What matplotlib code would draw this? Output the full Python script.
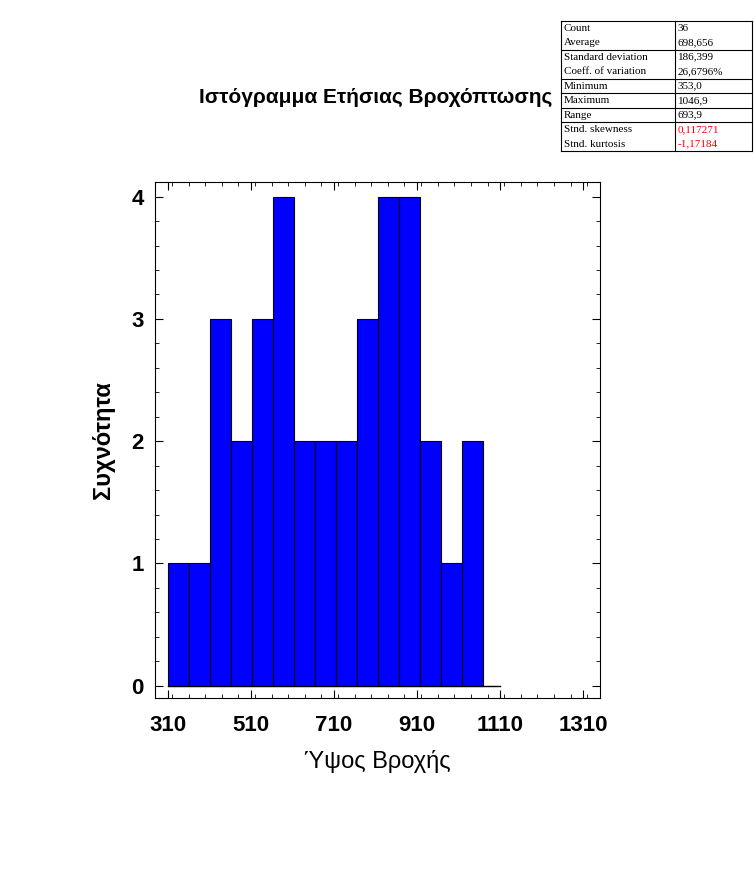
import matplotlib
matplotlib.use("Agg")
import matplotlib.pyplot as plt
from matplotlib.ticker import MultipleLocator

plt.rcParams["font.family"] = "Liberation Sans"

bin_edges = [310, 360.6, 411.2, 461.8, 512.4, 563, 613.6, 664.2, 714.8, 765.4, 816, 866.6, 917.2, 967.8, 1018.4, 1069]
counts = [1, 1, 3, 2, 3, 4, 2, 2, 2, 3, 4, 4, 2, 1, 2]
xticks = [310, 510, 710, 910, 1110, 1310]
yticks = [0, 1, 2, 3, 4]
stat_names = ["Count", "Average", "Standard deviation", "Coeff. of variation", "Minimum",
              "Maximum", "Range", "Stnd. skewness", "Stnd. kurtosis"]
stat_values = ["36", "698,656", "186,399", "26,6796%", "353,0", "1046,9", "693,9", "0,117271", "-1,17184"]

W, H = 754, 880
fig = plt.figure(figsize=(W/100, H/100), dpi=100)
ax = fig.add_axes([155/W, (H-698)/H, 445/W, 516/H])
widths = [bin_edges[i+1]-bin_edges[i] for i in range(len(counts))]
ax.bar(bin_edges[:-1], counts, width=widths, align="edge", color="#0000ff", edgecolor="black", linewidth=0.8)
ax.plot([310, 1110], [0, 0], color="black", lw=1)
ax.set_xlim(279, 1351)
ax.set_ylim(-0.1, 4.12)
ax.set_xticks(xticks)
ax.set_yticks(yticks)
ax.xaxis.set_minor_locator(MultipleLocator(40))
ax.yaxis.set_minor_locator(MultipleLocator(0.2))
ax.tick_params(which="both", direction="in", top=True, right=True)
ax.tick_params(which="major", length=6, labelsize=16)
ax.tick_params(axis="x", which="major", pad=12)
ax.tick_params(axis="y", which="major", pad=8)
ax.tick_params(which="minor", length=3)
for lab in ax.get_xticklabels() + ax.get_yticklabels():
    lab.set_fontweight("bold")
ax.set_xlabel("Ύψος Βροχής", fontsize=17, labelpad=10)
ax.set_ylabel("Συχνότητα", fontsize=17, fontweight="bold", labelpad=12)
fig.text(376/W, 1-97/H, "Ιστόγραμμα Ετήσιας Βροχόπτωσης", fontsize=15, fontweight="bold",
         ha="center", va="center")

# stats table
x0, x1, xm = 561, 752, 675
ytop, lh = 21, 14.5
for xx in (x0, x1, xm):
    fig.add_artist(plt.Line2D([xx/W, xx/W], [1-ytop/H, 1-(ytop+9*lh)/H], color="black", lw=0.8))
for k in [0, 2, 4, 5, 6, 7, 9]:
    y = 1-(ytop+k*lh)/H
    fig.add_artist(plt.Line2D([x0/W, x1/W], [y, y], color="black", lw=0.8))
for i, (n, v) in enumerate(zip(stat_names, stat_values)):
    y = 1-(ytop+(i+0.5)*lh)/H
    col = "red" if i >= 7 else "black"
    fig.text((x0+3)/W, y, n, fontsize=8, family="Liberation Serif", va="center")
    fig.text((xm+3)/W, y, v, fontsize=8, family="Liberation Serif", va="center", color=col)

fig.savefig("out.png", dpi=100)
